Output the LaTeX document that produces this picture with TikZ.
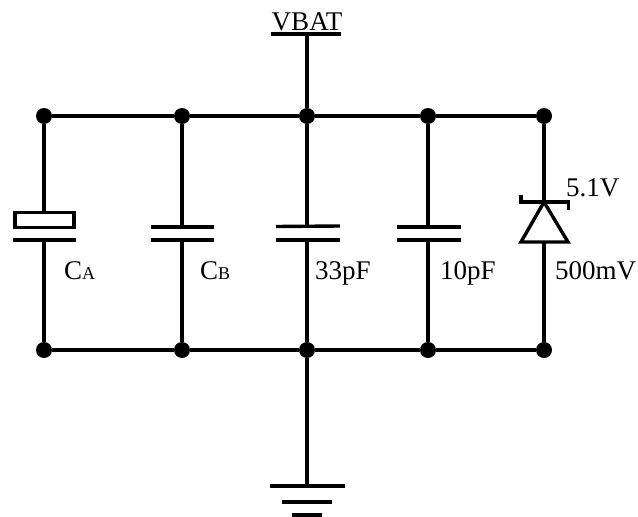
\documentclass[tikz,border=0pt]{standalone}
\usepackage{fontspec}
\setmainfont{Liberation Serif}
\tikzset{
	dot/.style={shape=circle,fill=black,inner sep=0pt,minimum size=16pt},
	wire/.style={line width=3.4pt},
	value/.style={anchor=base west,inner sep=0pt,font=\fontsize{27}{27}\selectfont}
}
\newcommand{\sublabel}[2]{#1{\fontsize{18}{18}\selectfont #2}}

\begin{document}
\begin{tikzpicture}[x=1pt,y=-1pt]
	\useasboundingbox (0,0) rectangle (638,517);

	% rails
	\node[dot] (t1) at (44,116) {};
	\node[dot] (t2) at (182,116) {};
	\node[dot] (t3) at (307,116) {};
	\node[dot] (t4) at (428,116) {};
	\node[dot] (t5) at (544,116) {};
	\node[dot] (b1) at (44,350) {};
	\node[dot] (b2) at (182,350) {};
	\node[dot] (b3) at (307,350) {};
	\node[dot] (b4) at (428,350) {};
	\node[dot] (b5) at (544,350) {};

	\path [-,wire] (t1) edge (t2);
	\path [-,wire] (t2) edge (t3);
	\path [-,wire] (t3) edge (t4);
	\path [-,wire] (t4) edge (t5);
	\path [-,wire] (b1) edge (b2);
	\path [-,wire] (b2) edge (b3);
	\path [-,wire] (b3) edge (b4);
	\path [-,wire] (b4) edge (b5);

	% supply
	\coordinate (v) at (307,34);
	\coordinate (vl) at (271,34);
	\coordinate (vr) at (341,34);
	\node[value,anchor=base] (vbat) at (307,30) {VBAT};
	\path [-,wire] (vl) edge (vr);
	\path [-,wire] (v) edge (t3);

	% CA
	\node[draw,wire,minimum width=59pt,minimum height=14.5pt,inner sep=0pt] (ca) at (44.5,220) {};
	\coordinate (ca1) at (13,240);
	\coordinate (ca2) at (76,240);
	\coordinate (ca3) at (44,240);
	\path [-,wire] (t1) edge (ca.north -| t1);
	\path [-,wire] (ca1) edge (ca2);
	\path [-,wire] (ca3) edge (b1);
	\node[value] (lca) at (64,279) {\sublabel{C}{A}};

	% CB
	\coordinate (cb1) at (151,227);
	\coordinate (cb2) at (214,227);
	\coordinate (cb3) at (151,240);
	\coordinate (cb4) at (214,240);
	\coordinate (cb5) at (182,227);
	\coordinate (cb6) at (182,240);
	\path [-,wire] (cb1) edge (cb2);
	\path [-,wire] (cb3) edge (cb4);
	\path [-,wire] (t2) edge (cb5);
	\path [-,wire] (cb6) edge (b2);
	\node[value] (lcb) at (200,279) {\sublabel{C}{B}};

	% 33pF
	\coordinate (cc1) at (276,226.5);
	\coordinate (cc2) at (340,226);
	\coordinate (cc3) at (276,240);
	\coordinate (cc4) at (340,240);
	\coordinate (cc5) at (307,226);
	\coordinate (cc6) at (307,240);
	\path [-,wire] (cc1) edge (cc2);
	\path [-,wire] (cc3) edge (cc4);
	\path [-,wire] (t3) edge (cc5);
	\path [-,wire] (cc6) edge (b3);
	\node[value] (lcc) at (315,279) {33pF};

	% 10pF
	\coordinate (cd1) at (397,227);
	\coordinate (cd2) at (461,227);
	\coordinate (cd3) at (397,240);
	\coordinate (cd4) at (461,240);
	\coordinate (cd5) at (428,227);
	\coordinate (cd6) at (428,240);
	\path [-,wire] (cd1) edge (cd2);
	\path [-,wire] (cd3) edge (cd4);
	\path [-,wire] (t4) edge (cd5);
	\path [-,wire] (cd6) edge (b4);
	\node[value] (lcd) at (440,279) {10pF};

	% zener
	\coordinate (z1) at (544,202);
	\coordinate (z2) at (521,242);
	\coordinate (z3) at (568,242);
	\coordinate (z4) at (521,195);
	\coordinate (z5) at (521,202);
	\coordinate (z6) at (568.5,202);
	\coordinate (z7) at (568.5,210);
	\coordinate (z8) at (544,242);
	\draw [wire,line join=miter] (z1) -- (z2) -- (z3) -- cycle;
	\draw [wire] (z4) -- (z5) -- (z6) -- (z7);
	\path [-,wire] (t5) edge (z1);
	\path [-,wire] (z8) edge (b5);
	\node[value] (lz1) at (566,196) {5.1V};
	\node[value] (lz2) at (555,279) {500mV};

	% ground
	\coordinate (g) at (307,486);
	\coordinate (g1) at (270,486);
	\coordinate (g2) at (345,486);
	\coordinate (g3) at (282,502);
	\coordinate (g4) at (332,502);
	\coordinate (g5) at (292,515);
	\coordinate (g6) at (322,515);
	\path [-,wire] (b3) edge (g);
	\path [-,wire] (g1) edge (g2);
	\path [-,wire] (g3) edge (g4);
	\path [-,wire] (g5) edge (g6);
\end{tikzpicture}
\end{document}
